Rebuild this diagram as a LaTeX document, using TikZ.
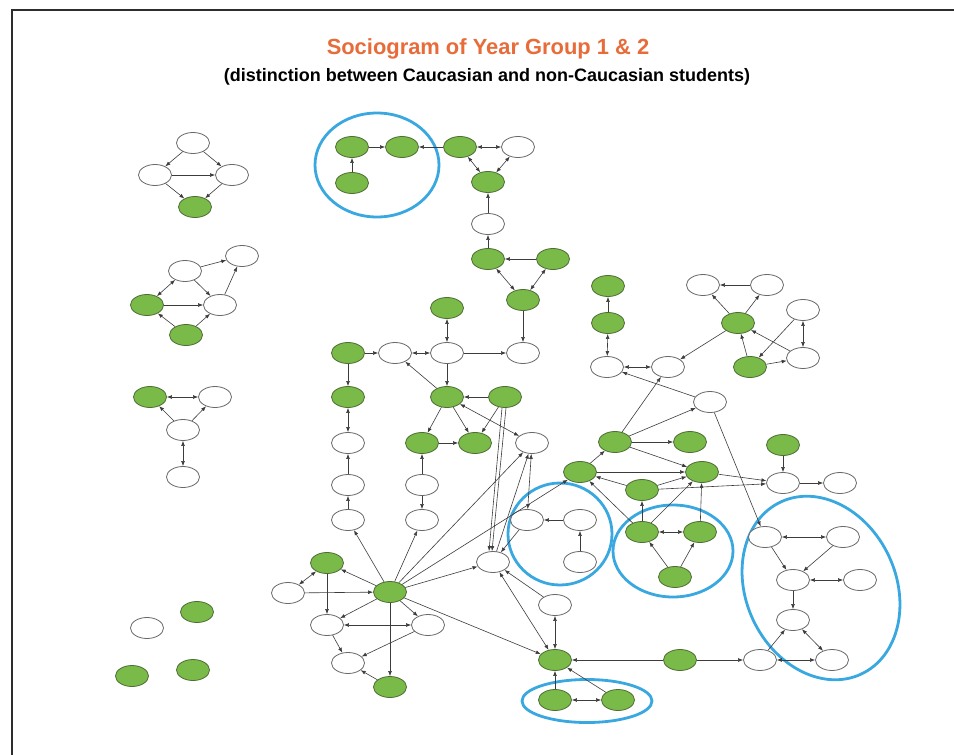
\documentclass[tikz,border=0pt]{standalone}
\usepackage{fontspec}
\setmainfont{Liberation Sans}
\usetikzlibrary{shapes.geometric,arrows.meta}
\definecolor{titleorange}{RGB}{232,108,58}
\definecolor{nodegreen}{RGB}{122,186,72}
\definecolor{greenedge}{RGB}{78,110,52}
\definecolor{nodeedge}{RGB}{105,105,105}
\definecolor{linecol}{RGB}{60,60,60}
\definecolor{ringblue}{RGB}{58,168,224}
\definecolor{framecol}{RGB}{45,45,45}
\tikzset{
  stud/.style={ellipse, minimum width=33pt, minimum height=21pt, inner sep=0pt, line width=0.8pt},
  wn/.style={stud, draw=nodeedge, fill=white},
  gn/.style={stud, draw=greenedge, fill=nodegreen},
  tie/.style={draw=linecol, line width=0.6pt, -{Latex[length=5pt,width=3.8pt]}},
  mutual/.style={draw=linecol, line width=0.6pt, {Latex[length=5pt,width=3.8pt]}-{Latex[length=5pt,width=3.8pt]}},
  ring/.style={draw=ringblue, line width=2.8pt},
}
\begin{document}
\begin{tikzpicture}[x=1pt, y=-1pt]
\useasboundingbox (0,0) rectangle (954,755);
\fill[white] (0,0) rectangle (954,755);
\draw[framecol, line width=1.2pt] (12,755) -- (12,10) -- (954,10);

% titles
\node[anchor=base, text=titleorange, font=\bfseries\fontsize{21.9}{24}\selectfont] (title) at (488,54) {Sociogram of Year Group 1 \& 2};
\node[anchor=base, text=black, font=\bfseries\fontsize{18}{20}\selectfont] (subtitle) at (487,81) {(distinction between Caucasian and non-Caucasian students)};

% highlighted sub-groups
\draw[ring] (377,165) ellipse [x radius=62, y radius=52];
\draw[ring] (560,534) ellipse [x radius=52, y radius=51];
\draw[ring] (673,551) ellipse [x radius=60, y radius=46];
\draw[ring, rotate around={25:(821,588)}] (821,588) ellipse [x radius=75, y radius=95];
\draw[ring] (587,701) ellipse [x radius=65, y radius=21.5];

% group A
\node[wn] (a1) at (193,143) {};
\node[wn] (a2) at (155,175) {};
\node[wn] (a3) at (232,175) {};
\node[gn] (a4) at (195,207) {};
% group B
\node[wn] (b1) at (185,271) {};
\node[wn] (b2) at (242,256) {};
\node[gn] (b3) at (147,305) {};
\node[wn] (b4) at (220,305) {};
\node[gn] (b5) at (186,335) {};
% group C
\node[gn] (c1) at (150,397) {};
\node[wn] (c2) at (215,397) {};
\node[wn] (c3) at (183,430) {};
\node[wn] (c4) at (183,477) {};
% isolates
\node[wn] (i1) at (147,628) {};
\node[gn] (i2) at (197,612) {};
\node[gn] (i3) at (132,676) {};
\node[gn] (i4) at (193,670) {};
% top chain
\node[gn] (t1) at (352,147) {};
\node[gn] (t2) at (402,147) {};
\node[gn] (t3) at (352,183) {};
\node[gn] (t4) at (460,147) {};
\node[wn] (t5) at (518,147) {};
\node[gn] (t6) at (488,182) {};
\node[wn] (t7) at (488,224) {};
\node[gn] (t8) at (488,259) {};
\node[gn] (t9) at (553,259) {};
\node[gn] (t10) at (523,300) {};
% middle block
\node[gn] (m1) at (348,353) {};
\node[wn] (m2) at (395,353) {};
\node[wn] (m3) at (447,353) {};
\node[wn] (m4) at (523,353) {};
\node[gn] (m5) at (447,308) {};
\node[gn] (m6) at (447,397) {};
\node[gn] (m7) at (505,397) {};
\node[gn] (m8) at (348,397) {};
\node[wn] (m9) at (348,443) {};
\node[wn] (m10) at (348,485) {};
\node[wn] (m11) at (348,520) {};
\node[gn] (m12) at (422,443) {};
\node[gn] (m13) at (475,443) {};
\node[wn] (m14) at (532,443) {};
\node[wn] (m15) at (422,485) {};
\node[wn] (m16) at (422,520) {};
% lower left block
\node[gn] (n1) at (327,563) {};
\node[wn] (n2) at (288,593) {};
\node[gn] (n3) at (390,592) {};
\node[wn] (n4) at (327,625) {};
\node[wn] (n5) at (428,625) {};
\node[wn] (n6) at (348,663) {};
\node[gn] (n7) at (390,687) {};
% lower middle
\node[wn] (w1) at (493,562) {};
\node[wn] (w2) at (527,520) {};
\node[wn] (w3) at (580,520) {};
\node[wn] (w4) at (580,562) {};
\node[wn] (w5) at (555,605) {};
\node[gn] (e1) at (555,660) {};
\node[gn] (e2) at (680,660) {};
\node[wn] (e3) at (760,660) {};
\node[wn] (e4) at (832,660) {};
\node[gn] (e5) at (555,700) {};
\node[gn] (e6) at (618,700) {};
% upper right
\node[gn] (r1) at (608,286) {};
\node[gn] (r2) at (608,323) {};
\node[wn] (r3) at (607,367) {};
\node[wn] (r4) at (668,367) {};
\node[wn] (r5) at (703,285) {};
\node[wn] (r6) at (767,285) {};
\node[gn] (r7) at (738,323) {};
\node[wn] (r8) at (803,310) {};
\node[gn] (r9) at (750,367) {};
\node[wn] (r10) at (803,358) {};
\node[wn] (r11) at (710,402) {};
% lower right
\node[gn] (s1) at (615,442) {};
\node[gn] (s2) at (690,442) {};
\node[gn] (s3) at (580,472) {};
\node[gn] (s4) at (702,472) {};
\node[gn] (s5) at (642,490) {};
\node[gn] (s6) at (642,532) {};
\node[gn] (s7) at (700,532) {};
\node[gn] (s8) at (675,577) {};
\node[gn] (s9) at (783,445) {};
\node[wn] (s10) at (783,483) {};
\node[wn] (s11) at (840,483) {};
\node[wn] (s12) at (765,537) {};
\node[wn] (s13) at (843,537) {};
\node[wn] (s14) at (793,580) {};
\node[wn] (s15) at (860,580) {};
\node[wn] (s16) at (793,620) {};

% ties: group A
\draw[tie] (a1) -- (a2);
\draw[tie] (a1) -- (a3);
\draw[tie] (a2) -- (a3);
\draw[tie] (a2) -- (a4);
\draw[tie] (a3) -- (a4);
% group B
\draw[mutual] (b3) -- (b1);
\draw[tie] (b1) -- (b2);
\draw[tie] (b1) -- (b4);
\draw[tie] (b4) -- (b2);
\draw[tie] (b3) -- (b4);
\draw[tie] (b5) -- (b3);
\draw[tie] (b5) -- (b4);
% group C
\draw[mutual] (c1) -- (c2);
\draw[tie] (c3) -- (c1);
\draw[tie] (c3) -- (c2);
\draw[mutual] (c3) -- (c4);
% top chain
\draw[tie] (t3) -- (t1);
\draw[tie] (t1) -- (t2);
\draw[tie] (t4) -- (t2);
\draw[mutual] (t4) -- (t5);
\draw[mutual] (t4) -- (t6);
\draw[mutual] (t5) -- (t6);
\draw[tie] (t7) -- (t6);
\draw[tie] (t8) -- (t7);
\draw[tie] (t9) -- (t8);
\draw[mutual] (t8) -- (t10);
\draw[mutual] (t9) -- (t10);
\draw[tie] (t10) -- (m4);
% middle block
\draw[mutual] (m5) -- (m3);
\draw[tie] (m1) -- (m2);
\draw[mutual] (m2) -- (m3);
\draw[tie] (m3) -- (m4);
\draw[tie] (m3) -- (m6);
\draw[tie] (m6) -- (m2);
\draw[tie] (m7) -- (m6);
\draw[tie] (m1) -- (m8);
\draw[mutual] (m8) -- (m9);
\draw[tie] (m10) -- (m9);
\draw[tie] (m11) -- (m10);
\draw[tie] (m6) -- (m12);
\draw[tie] (m12) -- (m13);
\draw[tie] (m6) -- (m13);
\draw[mutual] (m6) -- (m14);
\draw[tie] (m7) -- (m13);
\draw[tie] (m15) -- (m12);
\draw[tie] (m15) -- (m16);
% lower left block
\draw[tie] (n3) -- (m11);
\draw[tie] (n3) -- (m16);
\draw[tie] (n3) -- (n1);
\draw[mutual] (n1) -- (n2);
\draw[tie] (n2) -- (n3);
\draw[tie] (n1) -- (n4);
\draw[tie] (n3) -- (n4);
\draw[tie] (n3) -- (n5);
\draw[mutual] (n4) -- (n5);
\draw[tie] (n4) -- (n6);
\draw[tie] (n5) -- (n6);
\draw[tie] (n3) -- (n7);
\draw[tie] (n7) -- (n6);
\draw[tie] (n3) -- (w1);
\draw[tie] (n3) -- (e1);
\draw[tie] (n3) -- (s3);
\draw[tie] (n3) -- (m14);
% lower middle
\draw[tie] ([xshift=-3pt]m7.south) -- ([xshift=-4pt]w1.north);
\draw[tie] ([xshift=1pt]m7.south) -- ([xshift=-1pt]w1.north);
\draw[tie] (w1) -- (m14);
\draw[mutual] (m14) -- (w2);
\draw[tie] (w3) -- (w2);
\draw[tie] (w4) -- (w3);
\draw[tie] (w2) -- (w1);
\draw[mutual] (w1) -- (e1);
\draw[mutual] (w5) -- (e1);
\draw[tie] (w5) -- (w1);
\draw[tie] (e2) -- (e1);
\draw[tie] (e2) -- (e3);
\draw[mutual] (e3) -- (e4);
\draw[tie] (e5) -- (e1);
\draw[tie] (e6) -- (e1);
\draw[mutual] (e5) -- (e6);
% upper right
\draw[tie] (r2) -- (r1);
\draw[mutual] (r2) -- (r3);
\draw[mutual] (r3) -- (r4);
\draw[tie] (r7) -- (r5);
\draw[tie] (r7) -- (r6);
\draw[tie] (r6) -- (r5);
\draw[tie] (r7) -- (r4);
\draw[mutual] (r8) -- (r10);
\draw[tie] (r8) -- (r9);
\draw[tie] (r10) -- (r7);
\draw[tie] (r9) -- (r10);
\draw[tie] (r9) -- (r7);
\draw[tie] (r11) -- (r3);
% lower right
\draw[tie] (s1) -- (r4);
\draw[tie] (s1) -- (r11);
\draw[tie] (r11) -- (s12);
\draw[tie] (s3) -- (s1);
\draw[tie] (s1) -- (s2);
\draw[tie] (s1) -- (s4);
\draw[tie] (s3) -- (s4);
\draw[tie] (s5) -- (s4);
\draw[tie] (s5) -- (s3);
\draw[tie] (s5) -- (s10);
\draw[tie] (s4) -- (s10);
\draw[tie] (s6) -- (s5);
\draw[tie] (s6) -- (s4);
\draw[tie] (s6) -- (s3);
\draw[tie] (s7) -- (s4);
\draw[mutual] (s6) -- (s7);
\draw[tie] (s8) -- (s6);
\draw[tie] (s8) -- (s7);
\draw[tie] (s9) -- (s10);
\draw[tie] (s10) -- (s11);
\draw[mutual] (s12) -- (s13);
\draw[tie] (s12) -- (s14);
\draw[tie] (s13) -- (s14);
\draw[mutual] (s14) -- (s15);
\draw[tie] (s14) -- (s16);
\draw[tie] (e3) -- (s16);
\draw[mutual] (s16) -- (e4);
\end{tikzpicture}
\end{document}
